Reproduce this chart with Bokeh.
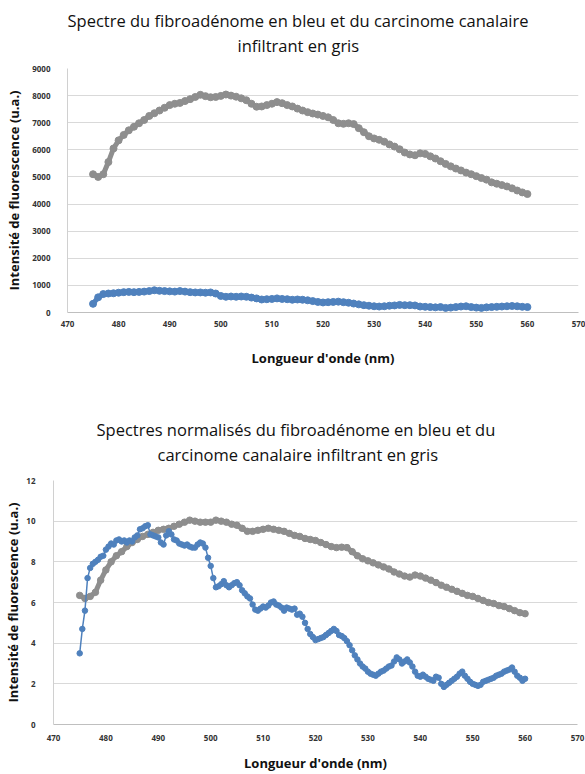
from bokeh.plotting import figure
from bokeh.layouts import column
from bokeh.models import FixedTicker, Range1d, Title
from bokeh.embed import file_html
from bokeh.resources import INLINE

# ---------------- data ----------------
wl_start = 475          # nm, first wavelength of every series
wl_step_1nm = 1.0
wl_step_blue_norm = 0.5

# raw spectra (u.a.), 475..560 nm, 1 nm step
gray_raw = [5100, 5000, 5100, 5550, 6050, 6350, 6550, 6720, 6850, 6980,
            7100, 7250, 7350, 7450, 7550, 7650, 7700, 7730, 7800, 7870,
            7950, 8030, 7980, 7940, 7950, 7990, 8040, 8000, 7960, 7900,
            7830, 7700, 7590, 7600, 7650, 7700, 7760, 7720, 7650, 7600,
            7520, 7450, 7390, 7340, 7300, 7250, 7200, 7100, 6980, 6960,
            6980, 6950, 6800, 6650, 6500, 6420, 6370, 6300, 6200, 6120,
            6020, 5900, 5830, 5800, 5870, 5850, 5760, 5680, 5580, 5480,
            5390, 5310, 5240, 5160, 5100, 5030, 4960, 4900, 4800, 4750,
            4700, 4650, 4580, 4500, 4430, 4370]
blue_raw = [320, 560, 680, 700, 710, 730, 750, 760, 750, 760,
            770, 790, 820, 800, 790, 780, 770, 790, 770, 750,
            740, 740, 730, 740, 700, 610, 580, 590, 580, 590,
            580, 550, 520, 480, 490, 500, 520, 500, 490, 470,
            480, 470, 450, 420, 390, 370, 380, 390, 400, 380,
            360, 330, 300, 270, 250, 230, 220, 230, 250, 260,
            280, 270, 270, 260, 220, 210, 200, 190, 200, 170,
            180, 200, 220, 230, 200, 180, 170, 190, 200, 210,
            220, 230, 240, 230, 210, 200]

# normalized spectra
gray_norm = [6.35, 6.2, 6.3, 6.5, 7.1, 7.6, 8.0, 8.3, 8.5, 8.75,
             8.95, 9.1, 9.25, 9.35, 9.45, 9.55, 9.6, 9.65, 9.75, 9.85,
             9.95, 10.05, 10.0, 9.95, 9.95, 9.95, 10.05, 10.0, 9.95, 9.85,
             9.8, 9.65, 9.5, 9.5, 9.55, 9.6, 9.65, 9.6, 9.55, 9.5,
             9.4, 9.3, 9.25, 9.15, 9.1, 9.05, 8.95, 8.85, 8.75, 8.7,
             8.72, 8.7, 8.5, 8.3, 8.15, 8.05, 7.95, 7.85, 7.75, 7.65,
             7.5, 7.4, 7.3, 7.25, 7.35, 7.3, 7.2, 7.1, 6.98, 6.85,
             6.75, 6.65, 6.55, 6.45, 6.35, 6.3, 6.2, 6.1, 6.0, 5.95,
             5.85, 5.8, 5.7, 5.6, 5.5, 5.45]
blue_norm = [3.5, 4.7, 5.6, 7.2, 7.7, 7.9, 8.0, 8.1, 8.25, 8.3,
             8.6, 8.75, 8.9, 8.85, 9.05, 9.1, 9.0, 9.05, 8.95, 9.05,
             9.0, 9.2, 9.3, 9.6, 9.65, 9.75, 9.8, 9.35, 9.3, 9.25,
             9.2, 8.95, 8.85, 9.3, 9.5, 9.35, 9.1, 9.05, 8.9, 8.85,
             8.8, 8.85, 8.75, 8.7, 8.7, 8.85, 8.95, 8.9, 8.7, 8.2,
             7.8, 7.2, 6.75, 6.8, 6.9, 7.05, 6.85, 6.75, 6.85, 6.95,
             7.0, 6.85, 6.6, 6.45, 6.3, 6.2, 5.9, 5.65, 5.6, 5.7,
             5.8, 5.75, 5.85, 6.0, 6.05, 5.9, 5.85, 5.75, 5.6, 5.75,
             5.7, 5.65, 5.7, 5.4, 5.45, 5.3, 5.0, 4.7, 4.45, 4.3,
             4.15, 4.2, 4.25, 4.3, 4.4, 4.5, 4.6, 4.7, 4.6, 4.4,
             4.35, 4.25, 4.1, 3.9, 3.65, 3.4, 3.2, 3.0, 2.85, 2.75,
             2.6, 2.5, 2.45, 2.4, 2.5, 2.6, 2.65, 2.75, 2.85, 2.9,
             3.1, 3.3, 3.2, 3.0, 3.1, 3.2, 3.05, 2.85, 2.6, 2.4,
             2.35, 2.45, 2.35, 2.25, 2.2, 2.15, 2.35, 2.3, 2.0, 1.85,
             1.95, 2.05, 2.15, 2.25, 2.35, 2.5, 2.6, 2.4, 2.25, 2.1,
             2.0, 1.95, 1.9, 1.95, 2.1, 2.15, 2.2, 2.25, 2.3, 2.4,
             2.45, 2.5, 2.6, 2.65, 2.7, 2.8, 2.6, 2.4, 2.3, 2.15,
             2.25]

x_ticks = [470, 480, 490, 500, 510, 520, 530, 540, 550, 560, 570]
y_ticks_raw = [0, 1000, 2000, 3000, 4000, 5000, 6000, 7000, 8000, 9000]
y_ticks_norm = [0, 2, 4, 6, 8, 10, 12]

title1 = ["Spectre du fibroadénome en bleu et du carcinome canalaire",
          "infiltrant en gris"]
title2 = ["Spectres normalisés du fibroadénome en bleu et du",
          "carcinome canalaire infiltrant en gris"]
x_label = "Longueur d'onde (nm)"
y_label = "Intensité de fluorescence (u.a.)"

# ---------------- style ----------------
BLUE = "#4f81bd"
GRAY = "#8e8e8e"
FONT = "Open Sans"
W = 585


def wl(values, step):
    return [wl_start + i * step for i in range(len(values))]


def make_fig(height, yr, yticks, titles, title_offsets, spacer_size,
             mb_left, mb_top, mb_bottom, mb_right, x_tick_standoff,
             x_label_standoff, y_tick_standoff, y_label_standoff):
    p = figure(width=W, height=height, output_backend="svg",
               toolbar_location=None,
               x_range=Range1d(470, 570), y_range=Range1d(*yr),
               min_border_left=mb_left, min_border_top=mb_top,
               min_border_bottom=mb_bottom, min_border_right=mb_right)
    # empty spacer between the frame and the title lines
    p.add_layout(Title(text=" ", standoff=0, text_font=FONT,
                       text_font_size=spacer_size), "above")
    # second line first: it sits next to the frame
    for i in reversed(range(len(titles))):
        p.add_layout(Title(text=titles[i], align="left",
                           offset=title_offsets[i], standoff=0,
                           text_font=FONT, text_font_size="16.5px",
                           text_font_style="normal", text_color="#111111"),
                     "above")
    p.outline_line_color = None
    p.background_fill_color = "white"
    p.border_fill_color = "white"
    p.xgrid.visible = False
    p.ygrid.grid_line_color = "#d9d9d9"
    p.ygrid.grid_line_width = 1
    p.xaxis.ticker = FixedTicker(ticks=x_ticks)
    p.yaxis.ticker = FixedTicker(ticks=yticks)
    for ax in (p.xaxis[0], p.yaxis[0]):
        ax.major_tick_line_color = None
        ax.minor_tick_line_color = None
        ax.major_tick_out = 0
        ax.major_tick_in = 0
        ax.minor_tick_out = 0
        ax.minor_tick_in = 0
        ax.major_label_text_font = FONT
        ax.major_label_text_font_style = "bold"
        ax.major_label_text_font_size = "8px"
        ax.major_label_text_color = "#333333"
        ax.axis_label_text_font = FONT
        ax.axis_label_text_font_style = "bold"
        ax.axis_label_text_font_size = "13px"
        ax.axis_label_text_color = "#111111"
    p.xaxis.axis_line_color = "#bfbfbf"
    p.yaxis.axis_line_color = "#d0d0d0"
    p.xaxis.axis_label = x_label
    p.yaxis.axis_label = y_label
    p.xaxis.major_label_standoff = x_tick_standoff
    p.xaxis.axis_label_standoff = x_label_standoff
    p.yaxis.major_label_standoff = y_tick_standoff
    p.yaxis.axis_label_standoff = y_label_standoff
    return p


p1 = make_fig(375, (0, 9000), y_ticks_raw, title1,
              title_offsets=(0, 170), spacer_size="7.7px",
              mb_left=67, mb_top=68, mb_bottom=63, mb_right=7,
              x_tick_standoff=8, x_label_standoff=19,
              y_tick_standoff=17, y_label_standoff=6)
x1 = wl(gray_raw, wl_step_1nm)
p1.line(x1, gray_raw, line_color=GRAY, line_width=5)
p1.scatter(x1, gray_raw, size=7, fill_color=GRAY, line_color=GRAY)
x1b = wl(blue_raw, wl_step_1nm)
p1.line(x1b, blue_raw, line_color=BLUE, line_width=5)
p1.scatter(x1b, blue_raw, size=7, fill_color=BLUE, line_color=BLUE)

p2 = make_fig(399, (0, 12), y_ticks_norm, title2,
              title_offsets=(43, 104), spacer_size="9.3px",
              mb_left=53, mb_top=105, mb_bottom=50, mb_right=8,
              x_tick_standoff=10, x_label_standoff=10,
              y_tick_standoff=18, y_label_standoff=1)
x2 = wl(gray_norm, wl_step_1nm)
p2.line(x2, gray_norm, line_color=GRAY, line_width=5)
p2.scatter(x2, gray_norm, size=6.5, fill_color=GRAY, line_color=GRAY)
x2b = wl(blue_norm, wl_step_blue_norm)
p2.line(x2b, blue_norm, line_color=BLUE, line_width=1.5)
p2.scatter(x2b, blue_norm, size=5.5, fill_color=BLUE, line_color=BLUE)

layout = column(column(p1), column(p2), spacing=0)
open("out.html", "w").write(file_html(layout, INLINE))
